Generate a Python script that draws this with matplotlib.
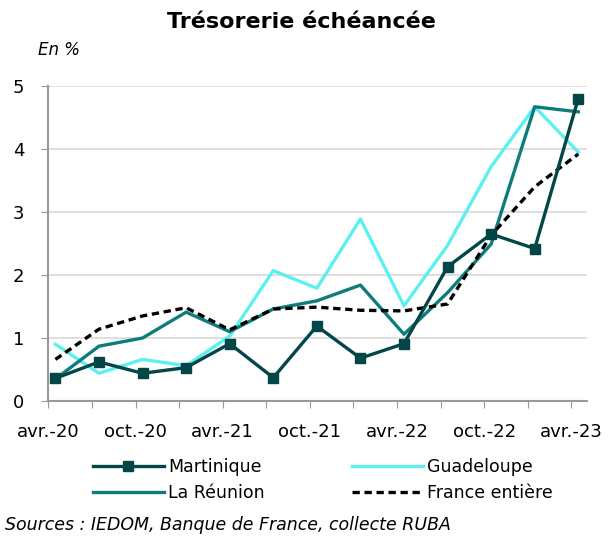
import matplotlib.pyplot as plt
from matplotlib.lines import Line2D

# quarterly points, avr.-20 .. avr.-23
n_points = 13
tick_labels = ['avr.-20', 'oct.-20', 'avr.-21', 'oct.-21', 'avr.-22', 'oct.-22', 'avr.-23']

martinique = [0.36, 0.62, 0.44, 0.53, 0.91, 0.37, 1.19, 0.68, 0.91, 2.13, 2.65, 2.42, 4.80]
guadeloupe = [0.90, 0.44, 0.66, 0.56, 1.03, 2.07, 1.79, 2.89, 1.51, 2.47, 3.72, 4.67, 3.95]
reunion = [0.35, 0.87, 1.00, 1.41, 1.10, 1.46, 1.59, 1.84, 1.06, 1.72, 2.49, 4.67, 4.59]
france = [0.66, 1.14, 1.35, 1.48, 1.13, 1.46, 1.49, 1.44, 1.43, 1.54, 2.63, 3.40, 3.92]

c_mart = '#034648'
c_guad = '#5cf0f0'
c_reun = '#0f7c7c'

plt.rcParams['font.family'] = ['DejaVu Sans']

fig = plt.figure(figsize=(6.15, 5.37), dpi=100)
ax = fig.add_axes([48/615, 1 - 401/537, (587-48)/615, (401-86)/537])

x = list(range(n_points))
lw = 2.4
dash = (0, (2.2, 1.4))
ax.plot(x, guadeloupe, color=c_guad, lw=lw, zorder=3)
ax.plot(x, reunion, color=c_reun, lw=lw, zorder=4)
ax.plot(x, france, color='black', lw=lw, ls=dash, zorder=5)
ax.plot(x, martinique, color=c_mart, lw=lw, marker='s', ms=6.5, zorder=6)

ax.set_ylim(0, 5)
ax.set_xlim(-0.17, 12.2)
ax.set_yticks([0, 1, 2, 3, 4, 5])
ax.tick_params(axis='y', labelsize=13, length=5, color='#999999', pad=12)
ax.yaxis.grid(True, color='#d9d9d9', lw=1.2)
ax.set_axisbelow(True)

xt = [i - 0.16 for i in range(n_points)]
ax.set_xticks(xt)
ax.set_xticklabels([tick_labels[i // 2] if i % 2 == 0 else '' for i in range(n_points)])
ax.tick_params(axis='x', labelsize=13, length=5, color='#999999', pad=11)

for s in ['top', 'right']:
    ax.spines[s].set_visible(False)
for s in ['left', 'bottom']:
    ax.spines[s].set_color('#999999')
    ax.spines[s].set_linewidth(1.5)

fig.text(301/615, 1 - 22/537, 'Trésorerie échéancée', ha='center', va='center',
         fontsize=16, fontweight='bold')
fig.text(38/615, 1 - 50/537, 'En %', ha='left', va='center', fontsize=12, style='italic')

# legend filled column-wise, so order gives rows Martinique/Guadeloupe, Réunion/France
handles = [
    Line2D([], [], color=c_mart, lw=lw, marker='s', ms=6.5),
    Line2D([], [], color=c_reun, lw=lw),
    Line2D([], [], color=c_guad, lw=lw),
    Line2D([], [], color='black', lw=lw, ls=dash),
]
labels = ['Martinique', 'La Réunion', 'Guadeloupe', 'France entière']
fig.legend(handles, labels, ncol=2, loc='center', bbox_to_anchor=(323/615, 1 - 480/537),
           frameon=False, fontsize=12.5, handlelength=4.1, handletextpad=0.25,
           columnspacing=5.0, labelspacing=0.45)

fig.text(5/615, 1 - 525/537, 'Sources : IEDOM, Banque de France, collecte RUBA',
         ha='left', va='center', fontsize=12.5, style='italic')

fig.savefig('out.png', dpi=100)
